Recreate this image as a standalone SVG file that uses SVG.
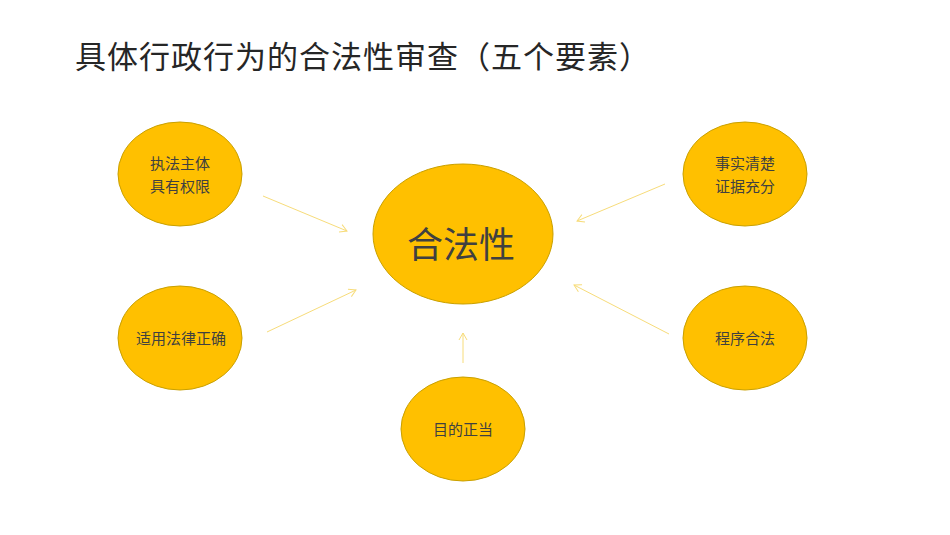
<svg xmlns="http://www.w3.org/2000/svg" width="950" height="535" viewBox="0 0 950 535">
<style>
.n{fill:#FFC000;stroke:#C9A000;stroke-width:1}
.t{font-family:"Noto Sans CJK SC",sans-serif;fill:#404040;text-anchor:middle}
.c{stroke:#F7DC7A;stroke-width:1;fill:none;marker-end:url(#a)}
</style>
<defs><marker id="a" markerWidth="10" markerHeight="10" refX="8" refY="5" orient="auto" markerUnits="userSpaceOnUse"><path d="M1,1 L8,5 L1,9" fill="none" stroke="#F7DC7A" stroke-width="1"/></marker></defs>
<rect width="950" height="535" fill="#fff"/>
<text x="75" y="68" font-family="Noto Sans CJK SC,sans-serif" font-size="31" fill="#262626" letter-spacing="1">具体行政行为的合法性审查（五个要素）</text>
<g id="connectors">
<line class="c" x1="263" y1="196" x2="347" y2="231"/>
<line class="c" x1="267" y1="332" x2="356" y2="290"/>
<line class="c" x1="463" y1="363" x2="463" y2="333"/>
<line class="c" x1="665" y1="184" x2="577" y2="221"/>
<line class="c" x1="669" y1="334" x2="574" y2="285"/>
</g>
<g id="center"><ellipse class="n" cx="463" cy="234" rx="90" ry="70"/><text class="t" x="461" y="258" font-size="36">合法性</text></g>
<g id="n1"><ellipse class="n" cx="180" cy="174" rx="62" ry="52"/><text class="t" x="180" y="169" font-size="15">执法主体</text><text class="t" x="180" y="192" font-size="15">具有权限</text></g>
<g id="n2"><ellipse class="n" cx="745" cy="174" rx="62" ry="52"/><text class="t" x="745" y="169" font-size="15">事实清楚</text><text class="t" x="745" y="192" font-size="15">证据充分</text></g>
<g id="n3"><ellipse class="n" cx="180" cy="338" rx="62" ry="52"/><text class="t" x="181" y="344" font-size="15">适用法律正确</text></g>
<g id="n4"><ellipse class="n" cx="745" cy="338" rx="62" ry="52"/><text class="t" x="745" y="344" font-size="15">程序合法</text></g>
<g id="n5"><ellipse class="n" cx="463" cy="429" rx="62" ry="52"/><text class="t" x="463" y="435" font-size="15">目的正当</text></g>
</svg>
